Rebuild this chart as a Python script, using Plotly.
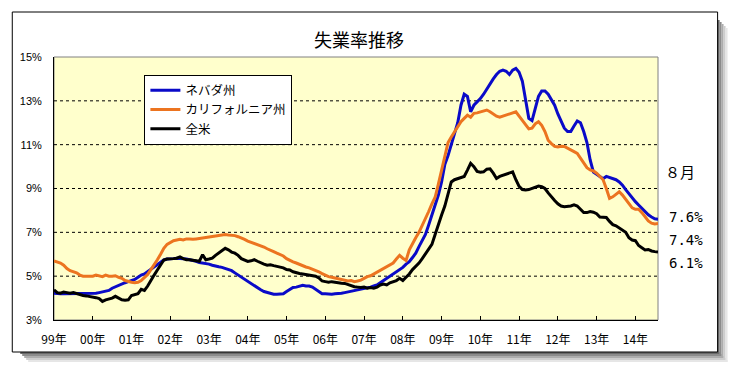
import plotly.graph_objects as go

# ---- data (monthly, Jan 1999 - Aug 2014) ----
months = [f"{y}/{m:02d}" for y in range(1999, 2015) for m in range(1, 13)][:188]
year_ticks = [f"{y}/01" for y in range(1999, 2015)]
year_labels = ["99年", "00年", "01年", "02年", "03年", "04年", "05年", "06年",
               "07年", "08年", "09年", "10年", "11年", "12年", "13年", "14年"]

nevada = [
    4.22, 4.2, 4.2, 4.2, 4.2, 4.2, 4.22, 4.2, 4.2, 4.2, 4.2, 4.2,
    4.2, 4.22, 4.25, 4.28, 4.3, 4.35, 4.45, 4.52, 4.58, 4.65, 4.7, 4.75,
    4.8, 4.85, 4.95, 5.05, 5.1, 5.2, 5.3, 5.43, 5.5, 5.6, 5.74, 5.78,
    5.78, 5.8, 5.82, 5.82, 5.8, 5.78, 5.75, 5.72, 5.68, 5.62, 5.6, 5.58,
    5.55, 5.5, 5.45, 5.43, 5.4, 5.35, 5.3, 5.25, 5.15, 5.05, 4.95, 4.85,
    4.75, 4.65, 4.55, 4.45, 4.38, 4.3, 4.25, 4.2, 4.18, 4.18, 4.2, 4.2,
    4.3, 4.4, 4.48, 4.5, 4.55, 4.58, 4.55, 4.55, 4.5, 4.4, 4.3, 4.2,
    4.2, 4.18, 4.18, 4.2, 4.2, 4.22, 4.25, 4.28, 4.3, 4.32, 4.35, 4.4,
    4.42, 4.45, 4.5, 4.55, 4.6, 4.7, 4.8, 4.9, 5.0, 5.1, 5.2, 5.3,
    5.4, 5.55, 5.66, 5.85, 6.05, 6.35, 6.6, 6.9, 7.33, 7.8, 8.25, 8.7,
    9.3, 10.1, 10.5, 11.0, 11.4, 12.0, 12.8, 13.3, 13.2, 12.5, 12.8, 12.95,
    13.1, 13.3, 13.55, 13.8, 14.0, 14.2, 14.35, 14.4, 14.35, 14.2, 14.4, 14.48,
    14.3, 13.9, 13.1, 12.2, 12.1, 12.6, 13.2, 13.45, 13.45, 13.3, 13.05, 12.8,
    12.4, 12.05, 11.75, 11.6, 11.6, 11.85, 12.08, 12.0, 11.6, 11.1, 10.3, 9.75,
    9.65, 9.55, 9.45, 9.55, 9.5, 9.43, 9.4, 9.3, 9.15, 8.95, 8.75, 8.55,
    8.4, 8.25, 8.1, 7.95, 7.8, 7.7, 7.62, 7.6,
]

california = [
    5.7, 5.65, 5.6, 5.5, 5.35, 5.25, 5.2, 5.15, 5.05, 5.0, 5.0, 5.0,
    5.0, 5.05, 5.0, 4.98, 5.05, 5.0, 5.0, 5.02, 4.95, 4.9, 4.8, 4.75,
    4.72, 4.7, 4.72, 4.8, 4.92, 5.08, 5.3, 5.5, 5.75, 6.0, 6.27, 6.45,
    6.55, 6.62, 6.65, 6.68, 6.65, 6.7, 6.7, 6.68, 6.7, 6.72, 6.75, 6.78,
    6.8, 6.83, 6.85, 6.85, 6.88, 6.9, 6.88, 6.88, 6.85, 6.8, 6.75, 6.68,
    6.6, 6.55, 6.5, 6.45, 6.38, 6.33, 6.25, 6.2, 6.12, 6.05, 6.0, 5.92,
    5.8, 5.72, 5.65, 5.6, 5.53, 5.46, 5.42, 5.38, 5.33, 5.28, 5.2, 5.12,
    5.05, 4.98, 4.95, 4.9, 4.88, 4.85, 4.82, 4.78, 4.8, 4.75, 4.78, 4.82,
    4.9, 4.98, 5.02, 5.1, 5.2, 5.28, 5.35, 5.45, 5.52, 5.6, 5.78, 5.95,
    5.82, 5.72, 6.2, 6.5, 6.75, 7.0, 7.3, 7.6, 7.95, 8.3, 8.6, 9.2,
    9.8, 10.5, 11.1, 11.35, 11.6, 11.85, 12.05, 12.2, 12.35, 12.25, 12.43, 12.45,
    12.5, 12.55, 12.58, 12.5, 12.4, 12.3, 12.25, 12.3, 12.35, 12.4, 12.45, 12.5,
    12.3, 12.1, 11.9, 11.72, 11.75, 11.95, 12.05, 11.88, 11.6, 11.2, 11.05, 10.92,
    10.9, 10.93, 10.92, 10.85, 10.77, 10.68, 10.6, 10.4, 10.2, 9.95, 9.85, 9.8,
    9.7, 9.55, 9.4, 9.0, 8.55, 8.62, 8.75, 8.85, 8.7, 8.5, 8.3, 8.12,
    8.05, 8.05, 7.9, 7.72, 7.52, 7.42, 7.38, 7.4,
]

usa = [
    4.38, 4.25, 4.22, 4.28, 4.25, 4.22, 4.25, 4.2, 4.15, 4.12, 4.1, 4.08,
    4.05, 4.02, 3.98, 3.85, 3.92, 3.95, 4.0, 4.08, 4.0, 3.92, 3.9, 3.92,
    4.12, 4.15, 4.2, 4.4, 4.35, 4.55, 4.82, 5.05, 5.28, 5.5, 5.74, 5.78,
    5.78, 5.8, 5.82, 5.88, 5.8, 5.75, 5.75, 5.72, 5.7, 5.68, 5.98, 5.75,
    5.78, 5.82, 5.95, 6.05, 6.15, 6.27, 6.2, 6.1, 6.05, 5.95, 5.8, 5.72,
    5.67, 5.7, 5.75, 5.68, 5.6, 5.55, 5.5, 5.52, 5.48, 5.45, 5.42, 5.38,
    5.3, 5.28, 5.2, 5.15, 5.12, 5.1, 5.08, 5.05, 5.03, 5.0, 4.92, 4.78,
    4.75, 4.72, 4.75, 4.72, 4.7, 4.68, 4.67, 4.62, 4.55, 4.52, 4.5, 4.48,
    4.5, 4.45, 4.48, 4.45, 4.5, 4.6, 4.64, 4.6, 4.7, 4.75, 4.8, 4.9,
    4.8, 4.95, 5.1, 5.3, 5.45, 5.6, 5.8, 6.0, 6.25, 6.45, 6.9, 7.3,
    7.79, 8.2, 8.7, 9.3, 9.4, 9.46, 9.5, 9.55, 9.84, 10.15, 10.0, 9.78,
    9.74, 9.76, 9.88, 9.9, 9.7, 9.46, 9.55, 9.6, 9.65, 9.69, 9.76, 9.4,
    9.1, 8.95, 8.93, 8.95, 9.0, 9.08, 9.11, 9.08, 9.0, 8.8, 8.6, 8.45,
    8.3, 8.2, 8.17, 8.17, 8.2, 8.25, 8.2, 8.05, 7.9, 7.9, 7.95, 7.92,
    7.85, 7.7, 7.7, 7.68, 7.5, 7.35, 7.3, 7.2, 7.1, 7.0, 6.75, 6.65,
    6.62, 6.4, 6.3, 6.2, 6.22, 6.15, 6.12, 6.1,
]

series_names = ["ネバダ州", "カリフォルニア州", "全米"]
series_colors = ["#0A0AC8", "#EC7420", "#000000"]
y_ticks = [3, 5, 7, 9, 11, 13, 15]
y_labels = [f"{v}%" for v in y_ticks]
grid_levels = [5, 7, 9, 11, 13]
latest_month = "８月"
latest_labels = ["7.6%", "7.4%", "6.1%"]

JP = "Noto Sans CJK JP"

fig = go.Figure()
for i, (name, vals, col) in enumerate(zip(series_names, [nevada, california, usa], series_colors)):
    fig.add_trace(go.Scatter(
        x=months, y=vals, name=name, mode="lines",
        line=dict(color=col, width=3), legendgroup=f"g{i}",
    ))

# The page body has an 8px margin, so screen coordinates are offset by 8px.
OFF = 8
W, H = 739 - 16, 373 - 16
L, R, T, B = 50 - OFF, 658 - OFF, 57 - OFF, 320 - OFF


def px(x):
    """screen x -> paper x"""
    return (x - OFF - L) / (R - L)


def py(y):
    """screen y -> paper y"""
    return (B - (y - OFF)) / (B - T)


shapes = []
for k, c in enumerate(["#6a6a6a", "#8c8c8c", "#adadad", "#cdcdcd", "#e6e6e6"]):
    shapes.append(dict(type="rect", xref="paper", yref="paper",
                       x0=px(718 + 2 * k), x1=px(720 + 2 * k), y0=py(20 + 2 * k), y1=py(354 + 2 * k),
                       line=dict(width=0), fillcolor=c, layer="below"))
    shapes.append(dict(type="rect", xref="paper", yref="paper",
                       x0=px(16 + 2 * k), x1=px(720 + 2 * k), y0=py(352 + 2 * k), y1=py(354 + 2 * k),
                       line=dict(width=0), fillcolor=c, layer="below"))
shapes.append(dict(type="rect", xref="paper", yref="paper",
                   x0=px(8), x1=px(718), y0=py(352), y1=py(12),
                   line=dict(color="black", width=1), fillcolor="rgba(0,0,0,0)", layer="below"))
# plot area border (gray)
shapes.append(dict(type="rect", xref="paper", yref="paper", x0=0, x1=1, y0=0, y1=1,
                   line=dict(color="#808080", width=1), layer="below"))
for g in grid_levels:
    shapes.append(dict(type="line", xref="paper", yref="y", x0=0, x1=1, y0=g, y1=g,
                       line=dict(color="black", width=1, dash="3px,3px"), layer="below"))

annotations = [
    dict(text=latest_month, xref="paper", yref="paper", x=px(680), y=py(171.5),
         xanchor="center", yanchor="middle", showarrow=False,
         font=dict(family=JP, size=15, color="black")),
]
for lab, yy in zip(latest_labels, [217.5, 239.5, 263]):
    annotations.append(dict(text=lab, xref="paper", yref="paper", x=px(667), y=py(yy),
                            xanchor="left", yanchor="middle", showarrow=False,
                            font=dict(family="DejaVu Sans Mono", size=14, color="black")))

fig.update_layout(
    width=W, height=H,
    margin=dict(l=L, r=W - R, t=T, b=H - B, pad=0),
    paper_bgcolor="white", plot_bgcolor="#FFFFCC",
    title=dict(text="失業率推移", x=(359 - OFF) / W, y=1 - (41 - OFF) / H, xanchor="center", yanchor="middle",
               font=dict(family=JP, size=18, color="black")),
    showlegend=True,
    legend=dict(x=px(141), y=py(74.5), xanchor="left", yanchor="top",
                bgcolor="white", bordercolor="black", borderwidth=1,
                font=dict(family=JP, size=12.5, color="black"),
                itemwidth=30, tracegroupgap=7, traceorder="normal"),
    shapes=shapes, annotations=annotations,
    xaxis=dict(type="category", range=[0, len(months) - 1], tickvals=year_ticks, ticktext=year_labels,
               showgrid=False, zeroline=False, showline=True, linecolor="black", linewidth=1,
               ticks="inside", ticklen=4, tickcolor="black", ticklabelstandoff=9,
               tickfont=dict(family=JP, size=12, color="black")),
    yaxis=dict(range=[3, 15], tickvals=y_ticks, ticktext=y_labels, showgrid=False, zeroline=False,
               showline=True, linecolor="black", linewidth=1, ticks="", ticklabelstandoff=9,
               tickfont=dict(family="Liberation Sans", size=11, color="black")),
    hovermode=False,
)

fig.write_html("out.html")
